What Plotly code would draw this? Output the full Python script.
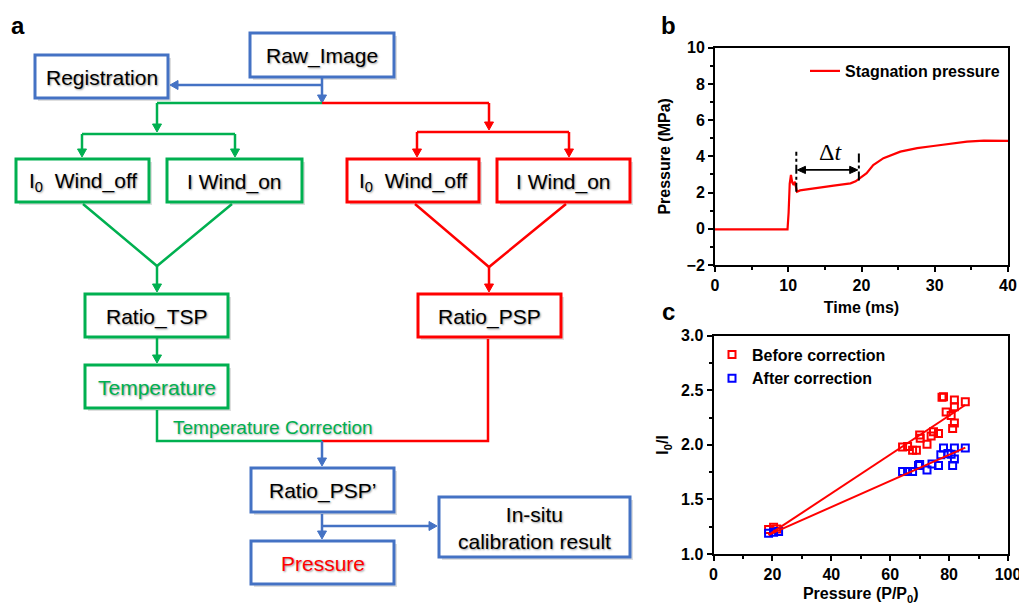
import plotly.graph_objects as go

# ---------------- data ----------------
# panel b: stagnation pressure trace
time_ms = [0, 2, 4, 6, 8, 9.9, 10.05, 10.2, 10.37, 10.55, 10.74, 10.9, 11.05, 11.2, 11.6,
           12.5, 13.9, 15.0, 16.2, 17.3, 18.5, 19.2, 19.8, 20.7, 21.6, 23.0, 25.3, 27.6,
           29.8, 32.1, 34.4, 36.7, 38.5, 40.0]
pressure_mpa = [-0.03, -0.03, -0.02, -0.04, -0.03, -0.03, 0.9, 2.5, 2.97, 2.55, 2.42, 2.6, 2.3, 2.05, 2.12,
                2.18, 2.24, 2.31, 2.38, 2.44, 2.51, 2.62, 2.79, 3.07, 3.52, 3.9, 4.26, 4.45,
                4.57, 4.69, 4.81, 4.87, 4.88, 4.86]

# panel c: calibration points
before_x = [77.6, 78.1, 81.8, 85.5, 81.8, 79.0, 80.7, 81.8, 81.2, 76.4, 74.7, 73.9, 70.0, 70.2,
            72.5, 64.2, 65.9, 67.6, 68.9, 18.7, 20.4, 21.5]
before_y = [2.435, 2.44, 2.41, 2.395, 2.35, 2.30, 2.27, 2.20, 2.15, 2.105, 2.12, 2.08, 2.09, 2.06,
            2.005, 1.98, 1.985, 1.95, 1.95, 1.225, 1.245, 1.23]
after_x = [78.1, 81.8, 85.5, 77.2, 79.6, 80.7, 81.8, 81.2, 76.4, 74.2, 72.5, 70.0, 69.6, 67.6,
           65.9, 64.2, 18.7, 22.1, 20.4]
after_y = [1.97, 1.97, 1.97, 1.91, 1.92, 1.915, 1.87, 1.81, 1.81, 1.825, 1.77, 1.82, 1.81, 1.755,
           1.755, 1.755, 1.19, 1.205, 1.20]
fit_x = [18.7, 85.5]
fit_before_y = [1.175, 2.365]
fit_after_y = [1.175, 1.975]

# panel a: flowchart labels
box_labels = ["Raw_Image", "Registration", "I<sub>0</sub>  Wind_off", "I Wind_on",
              "I<sub>0</sub>  Wind_off", "I Wind_on", "Ratio_TSP", "Ratio_PSP",
              "Temperature", "Ratio_PSP\u2019", "Pressure", "In-situ<br>calibration result"]
connector_label = "Temperature Correction"

# ---------------- style ----------------
BLUE = "#4472C4"
GREEN = "#00B050"
RED = "#FF0000"
FONT = "Liberation Sans, Arial, sans-serif"
PAGE_W, PAGE_H = 1027, 610
OFF = 8                       # default page margin around the plot div
W, H = PAGE_W - OFF, PAGE_H - OFF

fig = go.Figure()

# panel b
fig.add_trace(go.Scatter(x=time_ms, y=pressure_mpa, mode="lines", name="Stagnation pressure",
                         line=dict(color=RED, width=2.2), xaxis="x", yaxis="y", legend="legend"))
# panel c
fig.add_trace(go.Scatter(x=before_x, y=before_y, mode="markers", name="Before correction",
                         marker=dict(symbol="square-open", size=7, color=RED, line=dict(width=2, color=RED)),
                         xaxis="x2", yaxis="y2", legend="legend2"))
fig.add_trace(go.Scatter(x=after_x, y=after_y, mode="markers", name="After correction",
                         marker=dict(symbol="square-open", size=7, color="#0000FF", line=dict(width=2, color="#0000FF")),
                         xaxis="x2", yaxis="y2", legend="legend2"))
fig.add_trace(go.Scatter(x=fit_x, y=fit_before_y, mode="lines", line=dict(color=RED, width=2),
                         xaxis="x2", yaxis="y2", showlegend=False))
fig.add_trace(go.Scatter(x=fit_x, y=fit_after_y, mode="lines", line=dict(color=RED, width=2),
                         xaxis="x2", yaxis="y2", showlegend=False))
# canvas for flowchart
fig.add_trace(go.Scatter(x=[], y=[], xaxis="x3", yaxis="y3", showlegend=False))

tickfont = dict(family=FONT, size=16, color="black", weight="bold")
titlefont = dict(family=FONT, size=16, color="black", weight="bold")
axis_common = dict(showline=True, linecolor="black", linewidth=2, mirror=True, ticks="outside",
                   ticklen=5, tickwidth=2, tickcolor="black", showgrid=False, zeroline=False,
                   tickfont=tickfont, fixedrange=True, automargin=False)


def px_x(v):
    return (v - OFF) / W


def px_y(v):
    return 1 - (v - OFF) / H


layout = dict(
    width=W, height=H, margin=dict(l=0, r=0, t=0, b=0, pad=0, autoexpand=False),
    paper_bgcolor="white", plot_bgcolor="rgba(0,0,0,0)",
    font=dict(family=FONT, color="black"),
    hovermode=False,
    xaxis=dict(axis_common, domain=[px_x(715), px_x(1008)], range=[0, 40], dtick=10,
               minor=dict(ticks="outside", dtick=5, ticklen=3, tickwidth=2, tickcolor="black"),
               title=dict(text="Time (ms)", font=titlefont, standoff=9), anchor="y"),
    yaxis=dict(axis_common, domain=[px_y(265), px_y(47.7)], range=[-2, 10], dtick=2,
               minor=dict(ticks="outside", dtick=1, ticklen=3, tickwidth=2, tickcolor="black"),
               title=dict(text="Pressure (MPa)", font=titlefont, standoff=12), anchor="x"),
    xaxis2=dict(axis_common, domain=[px_x(713.5), px_x(1008)], range=[0, 100], dtick=20,
                minor=dict(ticks="outside", dtick=10, ticklen=3, tickwidth=2, tickcolor="black"),
                title=dict(text="Pressure (P/P<sub>0</sub>)", font=titlefont, standoff=6), anchor="y2"),
    yaxis2=dict(axis_common, domain=[px_y(554), px_y(335.7)], range=[1.0, 3.0], dtick=0.5,
                tickformat=".1f",
                minor=dict(ticks="outside", dtick=0.25, ticklen=3, tickwidth=2, tickcolor="black"),
                title=dict(text="I<sub>0</sub>/I", font=titlefont, standoff=8), anchor="x2"),
    xaxis3=dict(domain=[0, 1], range=[OFF, PAGE_W], visible=False, fixedrange=True, anchor="y3",
                automargin=False),
    yaxis3=dict(domain=[0, 1], range=[PAGE_H, OFF], visible=False, fixedrange=True, anchor="x3",
                automargin=False),
    legend=dict(x=px_x(805), y=px_y(71), xanchor="left", yanchor="middle",
                font=dict(family=FONT, size=16, color="black", weight="bold"),
                bgcolor="rgba(0,0,0,0)", itemwidth=30),
    legend2=dict(x=px_x(712), y=px_y(366.5), xanchor="left", yanchor="middle",
                 font=dict(family=FONT, size=16, color="black", weight="bold"),
                 bgcolor="rgba(0,0,0,0)", itemwidth=30, tracegroupgap=0),
)
fig.update_layout(**layout)

shapes = []
annotations = []


def arrowhead(xref, yref, tip, direction, col, length=8.0, half=4.5):
    """triangle head in pixel units of the flowchart canvas"""
    x, y = tip
    dx, dy = direction
    bx, by = x - dx * length, y - dy * length
    px, py = -dy * half, dx * half
    path = f"M {x},{y} L {bx + px},{by + py} L {bx - px},{by - py} Z"
    shapes.append(dict(type="path", xref=xref, yref=yref, path=path, fillcolor=col,
                       line=dict(color=col, width=1), layer="above"))


# ---------- panel b annotations ----------
dt_start, dt_end = 11.1, 19.64
dt_level = 3.25
shapes.append(dict(type="line", xref="x", yref="y", x0=dt_start, x1=dt_start, y0=2.05, y1=4.26,
                   line=dict(color="black", width=2, dash="dashdot")))
shapes.append(dict(type="line", xref="x", yref="y", x0=dt_end, x1=dt_end, y0=2.67, y1=4.26,
                   line=dict(color="black", width=2, dash="dashdot")))
shapes.append(dict(type="line", xref="x", yref="y", x0=dt_start + 0.6, x1=dt_end - 0.6,
                   y0=dt_level, y1=dt_level, line=dict(color="black", width=1.8)))
for tipx, d in ((dt_start + 0.15, 1), (dt_end - 0.15, -1)):
    shapes.append(dict(type="path", xref="x", yref="y",
                       path=f"M {tipx},{dt_level} L {tipx + d * 1.1},{dt_level + 0.2} "
                            f"L {tipx + d * 1.1},{dt_level - 0.2} Z",
                       fillcolor="black", line=dict(color="black", width=1)))
annotations.append(dict(xref="x", yref="y", x=15.75, y=4.26, text="\u0394<i>t</i>", showarrow=False,
                        font=dict(family="Liberation Serif, Times New Roman, serif", size=24, color="black")))

# ---------- panel letters ----------
for letter, (lx, ly) in zip(["a", "b", "c"], [(18, 25), (668, 25), (668, 311)]):
    annotations.append(dict(xref="x3", yref="y3", x=lx, y=ly, text=letter, showarrow=False,
                            font=dict(family=FONT, size=24, color="black", weight="bold")))

# ---------- flowchart ----------
box_geom = [
    (250, 33, 394, 77, BLUE, "black"),
    (35, 55, 168, 98, BLUE, "black"),
    (16, 159, 149, 202, GREEN, "black"),
    (167, 159, 302, 202, GREEN, "black"),
    (347, 159, 479, 202, RED, "black"),
    (497, 159, 630, 202, RED, "black"),
    (85, 294, 228, 337, GREEN, "black"),
    (418, 294, 561, 337, RED, "black"),
    (85, 365, 228, 408, GREEN, GREEN),
    (251, 468, 394, 512, BLUE, "black"),
    (251, 541, 394, 584, BLUE, RED),
    (439, 497, 630, 557, BLUE, "black"),
]
for label, (x0, y0, x1, y1, col, tcol) in zip(box_labels, box_geom):
    shapes.append(dict(type="rect", xref="x3", yref="y3", x0=x0 + 3, y0=y0 + 3, x1=x1 + 3, y1=y1 + 3,
                       line=dict(width=0), fillcolor="rgba(0,0,0,0.13)", layer="above"))
    shapes.append(dict(type="rect", xref="x3", yref="y3", x0=x0, y0=y0, x1=x1, y1=y1,
                       line=dict(color=col, width=3), fillcolor="white", layer="above"))
    annotations.append(dict(xref="x3", yref="y3", x=(x0 + x1) / 2, y=(y0 + y1) / 2 + 1, text=label,
                            showarrow=False,
                            font=dict(family=FONT, size=21, color=tcol,
                                      shadow="1px 1px 2px rgba(0,0,0,0.4)")))


def seg(pts, col, width=2.5):
    path = "M " + " L ".join(f"{x},{y}" for x, y in pts)
    shapes.append(dict(type="path", xref="x3", yref="y3", path=path,
                       line=dict(color=col, width=width), layer="above"))


def arrow(x0, y0, x1, y1, col):
    L = ((x1 - x0) ** 2 + (y1 - y0) ** 2) ** 0.5
    d = ((x1 - x0) / L, (y1 - y0) / L)
    seg([(x0, y0), (x1 - d[0] * 6, y1 - d[1] * 6)], col)
    arrowhead("x3", "y3", (x1, y1), d, col)


# top: raw image -> split
arrow(322, 77, 322, 103, BLUE)
arrow(322, 85, 170, 85, BLUE)
# green branch
seg([(157, 103), (322, 103)], GREEN)
arrow(157, 103, 157, 132, GREEN)
seg([(82, 134), (235, 134)], GREEN)
arrow(82, 134, 82, 157, GREEN)
arrow(235, 134, 235, 157, GREEN)
seg([(83, 204), (157, 266), (232, 204)], GREEN)
arrow(157, 266, 157, 292, GREEN)
arrow(157, 338, 157, 363, GREEN)
seg([(157, 410), (157, 441), (322, 441)], GREEN)
# red branch
seg([(322, 103), (489, 103)], RED)
arrow(489, 103, 489, 130, RED)
seg([(417, 132), (569, 132)], RED)
arrow(417, 132, 417, 157, RED)
arrow(569, 132, 569, 157, RED)
seg([(415, 204), (489, 267), (566, 204)], RED)
arrow(489, 267, 489, 292, RED)
seg([(488, 339), (488, 441), (322, 441)], RED)
# blue bottom
arrow(322, 441, 322, 466, BLUE)
arrow(322, 514, 322, 539, BLUE)
arrow(322, 526, 437, 526, BLUE)

annotations.append(dict(xref="x3", yref="y3", x=171, y=427, xanchor="left", text=connector_label,
                        showarrow=False, font=dict(family=FONT, size=19, color=GREEN,
                                                   shadow="1px 1px 2px rgba(0,0,0,0.3)")))

fig.update_layout(shapes=shapes, annotations=annotations)
fig.write_html("out.html")
